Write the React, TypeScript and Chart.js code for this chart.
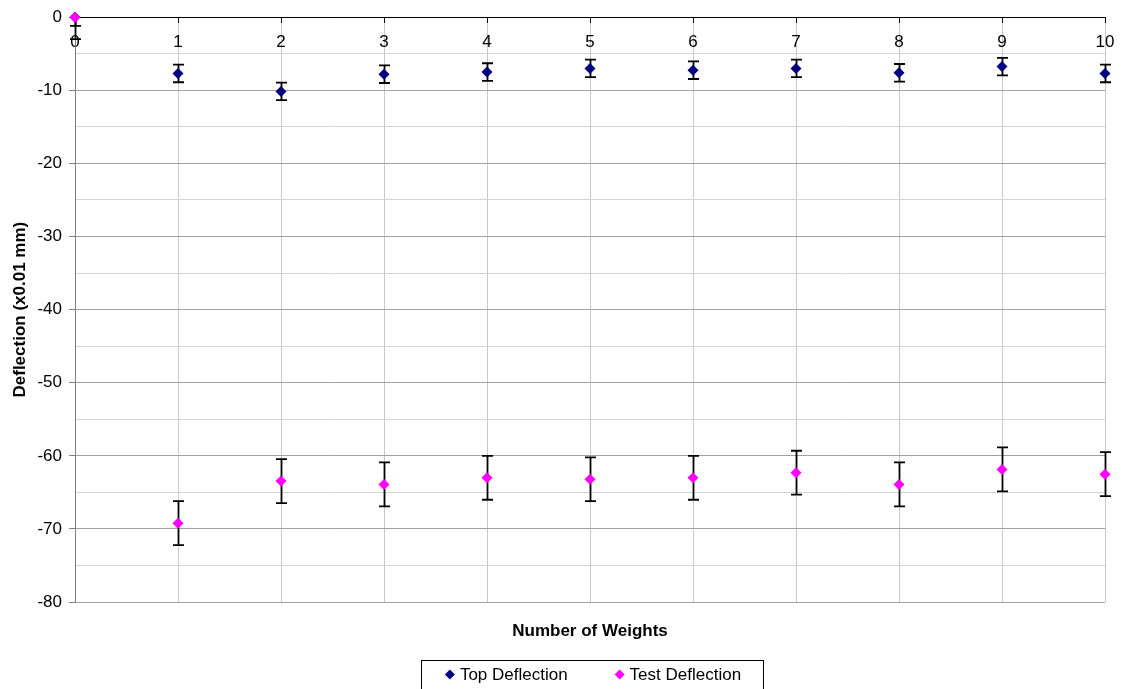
import React, { useEffect, useRef } from "react";
import { Chart, registerables } from "chart.js";

Chart.register(...registerables);

const weights = [0, 1, 2, 3, 4, 5, 6, 7, 8, 9, 10];
const topDeflection = [0, -7.7, -10.15, -7.8, -7.5, -7.0, -7.25, -7.0, -7.6, -6.75, -7.7];
const topError = [1.2, 1.2, 1.2, 1.2, 1.2, 1.2, 1.2, 1.2, 1.2, 1.2, 1.2];
const testDeflection = [0, -69.2, -63.45, -63.9, -63.0, -63.2, -63.0, -62.3, -63.9, -61.85, -62.5];
const testError = [3.0, 3.0, 3.0, 3.0, 3.0, 3.0, 3.0, 3.0, 3.0, 3.0, 3.0];
const seriesNames = ["Top Deflection", "Test Deflection"];
const seriesColors = ["#000080", "#FF00FF"];
const xTitle = "Number of Weights";
const yTitle = "Deflection (x0.01 mm)";

const FONT = "'Liberation Sans', Arial, sans-serif";
const FS = 17;

const errorBarPlugin = {
  id: "errorBars",
  beforeDatasetsDraw(chart: any) {
    const { ctx, chartArea } = chart;
    const xs = chart.scales.x;
    const ys = chart.scales.y;
    ctx.save();
    ctx.beginPath();
    ctx.rect(chartArea.left - 10, chartArea.top, chartArea.right - chartArea.left + 20, chartArea.bottom - chartArea.top);
    ctx.clip();
    ctx.strokeStyle = "#000";
    ctx.lineWidth = 1.8;
    chart.data.datasets.forEach((ds: any) => {
      const errs: number[] = ds.errors || [];
      ds.data.forEach((p: any, i: number) => {
        const e = errs[i];
        if (e == null) return;
        const x = Math.round(xs.getPixelForValue(p.x)) + 0.5;
        const y1 = ys.getPixelForValue(p.y + e);
        const y2 = ys.getPixelForValue(p.y - e);
        ctx.beginPath();
        ctx.moveTo(x, y1);
        ctx.lineTo(x, y2);
        ctx.moveTo(x - 5.5, y1);
        ctx.lineTo(x + 5.5, y1);
        ctx.moveTo(x - 5.5, y2);
        ctx.lineTo(x + 5.5, y2);
        ctx.stroke();
      });
    });
    ctx.restore();
  },
};

const boxLegendPlugin = {
  id: "boxLegend",
  afterDraw(chart: any) {
    const { ctx, chartArea } = chart;
    const cx = (chartArea.left + chartArea.right) / 2 + 3;
    ctx.save();
    ctx.font = `${FS}px ${FONT}`;
    const markerToText = 15;
    const itemGap = 47;
    const widths = seriesNames.map((n) => ctx.measureText(n).width);
    const total =
      widths.reduce((a, b) => a + b, 0) + seriesNames.length * markerToText + itemGap * (seriesNames.length - 1);
    const start = cx - total / 2;
    const end = cx + total / 2;
    const boxLeft = Math.round(start - 24) + 0.5;
    const boxRight = Math.round(end + 22) + 0.5;
    const boxTop = 660.5;
    ctx.strokeStyle = "#000";
    ctx.lineWidth = 1;
    ctx.strokeRect(boxLeft, boxTop, boxRight - boxLeft, 40);
    let x = start;
    const yMid = 674.5;
    seriesNames.forEach((name, i) => {
      ctx.fillStyle = seriesColors[i];
      ctx.beginPath();
      ctx.moveTo(x + 5, yMid - 5);
      ctx.lineTo(x + 10, yMid);
      ctx.lineTo(x + 5, yMid + 5);
      ctx.lineTo(x, yMid);
      ctx.closePath();
      ctx.fill();
      x += markerToText;
      ctx.fillStyle = "#000";
      ctx.textBaseline = "middle";
      ctx.textAlign = "left";
      ctx.fillText(name, x, yMid + 1);
      x += widths[i] + itemGap;
    });
    ctx.restore();
  },
};

export default function App() {
  const canvasRef = useRef<HTMLCanvasElement | null>(null);

  useEffect(() => {
    document.body.style.margin = "0";
    const canvas = canvasRef.current;
    if (!canvas) return;
    const mk = (ys: number[], errs: number[], i: number, order: number) => ({
      label: seriesNames[i],
      data: weights.map((w, k) => ({ x: w, y: ys[k] })),
      errors: errs,
      backgroundColor: seriesColors[i],
      borderColor: seriesColors[i],
      pointStyle: "rectRot",
      pointRadius: 5.5,
      pointBorderWidth: 0,
      showLine: false,
      order,
      clip: 10,
    });
    const chart = new Chart(canvas, {
      type: "scatter",
      data: {
        datasets: [mk(topDeflection, topError, 0, 1), mk(testDeflection, testError, 1, 0)] as any,
      },
      plugins: [errorBarPlugin, boxLegendPlugin],
      options: {
        animation: false,
        responsive: false,
        maintainAspectRatio: false,
        layout: { padding: { left: 0, top: 17, right: 17, bottom: 37 } },
        plugins: {
          legend: { display: false },
          tooltip: { enabled: false },
          title: {
            display: true,
            position: "bottom",
            fullSize: false,
            text: xTitle,
            color: "#000",
            font: { family: FONT, size: FS, weight: "bold" },
            padding: { top: 19.5, bottom: 10 },
          },
        },
        scales: {
          x: {
            type: "linear",
            position: { y: 0 } as any,
            min: 0,
            max: 10,
            ticks: {
              stepSize: 1,
              color: "#000",
              font: { family: FONT, size: FS, lineHeight: 1.67 },
              padding: 6,
              maxRotation: 0,
            },
            grid: {
              color: "#c8c8c8",
              tickColor: "#000",
              tickLength: 5,
              lineWidth: 1,
            },
            border: { color: "#000", width: 1 },
          },
          y: {
            type: "linear",
            position: "left",
            min: -80,
            max: 0,
            afterFit: (scale: any) => {
              scale.width = 75;
            },
            ticks: {
              stepSize: 5,
              color: "#000",
              font: { family: FONT, size: FS },
              padding: 7,
              callback: (v: any) => (Math.round(v) % 10 === 0 ? String(v) : ""),
            },
            grid: {
              color: (c: any) => (Math.round(c.tick?.value ?? 0) % 10 === 0 ? "#a0a0a0" : "#d4d4d4"),
              tickColor: (c: any) => (Math.round(c.tick?.value ?? 0) % 10 === 0 ? "#808080" : "rgba(0,0,0,0)"),
              tickLength: 6,
              lineWidth: 1,
            },
            border: { color: "#808080", width: 1 },
            title: {
              display: true,
              text: yTitle,
              color: "#000",
              font: { family: FONT, size: FS, weight: "bold" },
              padding: { top: 10, bottom: 4 },
            },
          },
        },
      } as any,
    });
    return () => chart.destroy();
  }, []);

  return (
    <div style={{ position: "fixed", left: 0, top: 0, width: 1122, height: 689, background: "#fff" }}>
      <canvas ref={canvasRef} width={1122} height={689} style={{ width: 1122, height: 689 }} />
    </div>
  );
}
